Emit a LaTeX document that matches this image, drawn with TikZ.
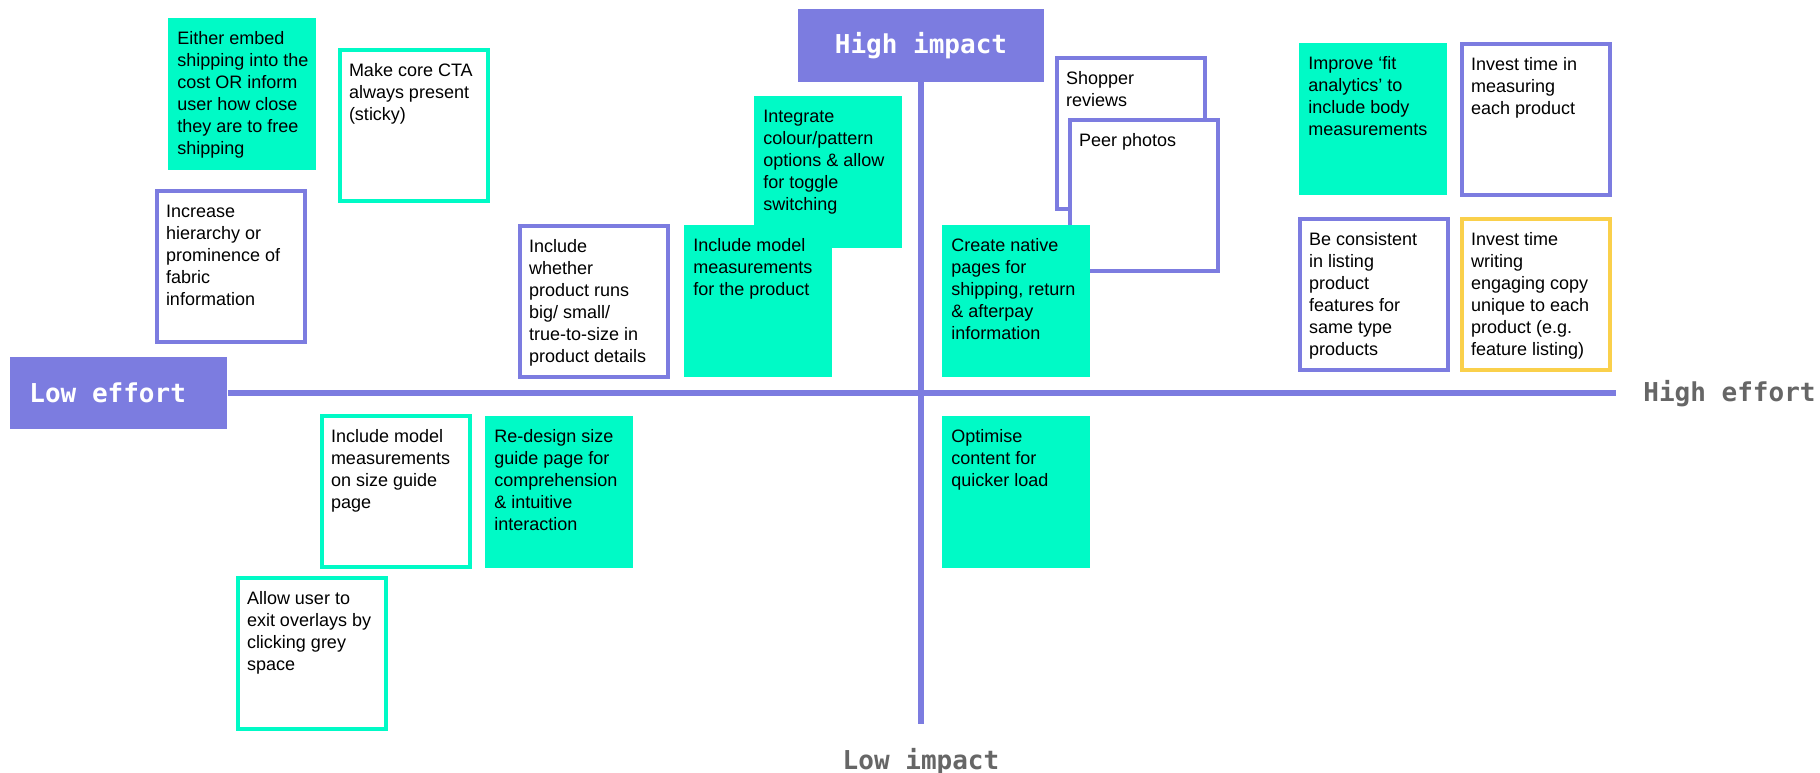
\documentclass[tikz,border=0pt]{standalone}
\usepackage{fontspec}
\setmainfont{Liberation Sans}
\newfontfamily\codefont{DejaVu Sans Mono}
\usepackage{tikz}
\definecolor{ideateal}{RGB}{0,250,198}
\definecolor{ideapurple}{RGB}{124,124,224}
\definecolor{ideayellow}{RGB}{250,208,75}
\definecolor{ideagray}{RGB}{102,102,102}
\newcommand{\memo}[1]{\parbox[t][65pt][t]{65pt}{\begin{tabular}[t]{@{}l@{}}#1\end{tabular}}}

\begin{document}
\begin{tikzpicture}[x=0.5pt,y=-0.5pt,
  note/.style={anchor=north west,inner xsep=4.5pt,inner ysep=5.3pt,font=\fontsize{9}{11}\selectfont},
  solid note/.style={note,fill=ideateal},
  line note/.style={note,draw=#1,line width=2pt,fill=white},
  axis tag/.style={fill=ideapurple,text=white,font=\codefont\bfseries\fontsize{13}{15}\selectfont},
  end tag/.style={text=ideagray,inner sep=0pt,font=\codefont\bfseries\fontsize{13}{15}\selectfont},
  axis/.style={draw=ideapurple,line width=3pt}]
\useasboundingbox[fill=white] (0,0) rectangle (1820,772);
\node[axis tag,minimum width=123pt,minimum height=36.5pt] (hi) at (921,45.5) {High impact};
\node[axis tag,anchor=west,inner xsep=9.5pt,minimum height=36pt] (lo) at (10,393) {\makebox[89.5pt][l]{Low effort}};
\node[end tag,anchor=base west] (he) at (1643,401) {High effort};
\node[end tag,anchor=base] (li) at (921,769) {Low impact};
\coordinate (effortend) at (1616,393);
\coordinate (impactend) at (921,724);
\draw[axis] (lo.east) -- (effortend);
\draw[axis] (hi.south) -- (impactend);

\node[solid note] (ship) at (168,18) {\memo{Either embed\\shipping into the\\cost OR inform\\user how close\\they are to free\\shipping}};
\node[line note=ideateal] (cta) at (338,48) {\memo{Make core CTA\\always present\\(sticky)}};
\node[line note=ideapurple] (fabric) at (155,189) {\memo{Increase\\hierarchy or\\prominence of\\fabric\\information}};
\node[line note=ideapurple] (runs) at (518,224) {\memo{Include\\whether\\product runs\\big/ small/\\true-to-size in\\product details}};
\node[solid note] (toggle) at (754,96) {\memo{Integrate\\colour/pattern\\options \& allow\\for toggle\\switching}};
\node[solid note] (model) at (684,225) {\memo{Include model\\measurements\\for the product}};
\node[line note=ideapurple] (reviews) at (1055,56) {\memo{Shopper\\reviews}};
\node[line note=ideapurple] (photos) at (1068,118) {\memo{Peer photos}};
\node[solid note] (native) at (942,225) {\memo{Create native\\pages for\\shipping, return\\\& afterpay\\information}};
\node[solid note] (fit) at (1299,43) {\memo{Improve ‘fit\\analytics’ to\\include body\\measurements}};
\node[line note=ideapurple] (measure) at (1460,42) {\memo{Invest time in\\measuring\\each product}};
\node[line note=ideapurple] (listing) at (1298,217) {\memo{Be consistent\\in listing\\product\\features for\\same type\\products}};
\node[line note=ideayellow] (copy) at (1460,217) {\memo{Invest time\\writing\\engaging copy\\unique to each\\product (e.g.\\feature listing)}};
\node[line note=ideateal] (guide) at (320,414) {\memo{Include model\\measurements\\on size guide\\page}};
\node[solid note] (redesign) at (485,416) {\memo{Re-design size\\guide page for\\comprehension\\\& intuitive\\interaction}};
\node[line note=ideateal] (overlay) at (236,576) {\memo{Allow user to\\exit overlays by\\clicking grey\\space}};
\node[solid note] (load) at (942,416) {\memo{Optimise\\content for\\quicker load}};
\end{tikzpicture}
\end{document}
